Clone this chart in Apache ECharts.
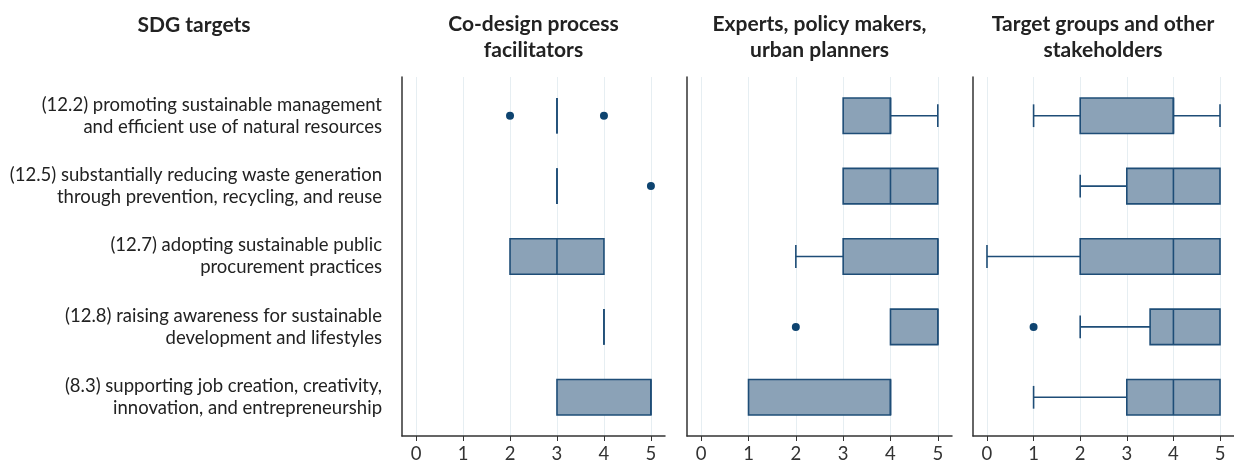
<!DOCTYPE html>
<html>
<head>
<meta charset="utf-8">
<script src="https://cdn.jsdelivr.net/npm/echarts@6/dist/echarts.min.js"></script>
<style>
  html, body { margin: 0; padding: 0; background: #fff; }
  #chart { width: 1234px; height: 464px; }
</style>
</head>
<body>
<div id="chart"></div>
<script>
// SDG targets (top to bottom)
var categories = [
    '(12.2) promoting sustainable management\nand efficient use of natural resources',
    '(12.5) substantially reducing waste generation\nthrough prevention, recycling, and reuse',
    '(12.7) adopting sustainable public\nprocurement practices',
    '(12.8) raising awareness for sustainable\ndevelopment and lifestyles',
    '(8.3) supporting job creation, creativity,\ninnovation, and entrepreneurship'
];
var panelTitles = [
    'Co-design process\nfacilitators',
    'Experts, policy makers,\nurban planners',
    'Target groups and other\nstakeholders'
];
var xTicks = [0, 1, 2, 3, 4, 5];

// [min, Q1, median, Q3, max] per category
var coDesignBoxes = [[3, 3, 3, 3, 3], [3, 3, 3, 3, 3], [2, 2, 3, 4, 4], [4, 4, 4, 4, 4], [3, 3, 5, 5, 5]];
var expertsBoxes = [[3, 3, 4, 4, 5], [3, 3, 4, 5, 5], [2, 3, 5, 5, 5], [4, 4, 5, 5, 5], [1, 1, 4, 4, 4]];
var targetBoxes = [[1, 2, 4, 4, 5], [2, 3, 4, 5, 5], [0, 2, 4, 5, 5], [2, 3.5, 4, 5, 5], [1, 3, 4, 5, 5]];

// outliers: [value, category index]
var coDesignOutliers = [[2, 0], [4, 0], [5, 1]];
var expertsOutliers = [[2, 3]];
var targetOutliers = [[1, 3]];

var chart = echarts.init(document.getElementById('chart'));

var font = 'Lato';
var boxFill = '#8ba2b7';
var boxLine = '#1e4d77';
var dotColor = '#0e4470';
var gridLeft = [402, 687, 973];
var gridRight = [569, 282, -3];

function boxRows(boxes) {
    return boxes.map(function (b, i) { return [i].concat(b); });
}

function renderBox(params, api) {
    var cat = api.value(0);
    var vMin = api.value(1), q1 = api.value(2), med = api.value(3), q3 = api.value(4), vMax = api.value(5);
    var band = api.size([0, 1])[1];
    var boxH = band * 0.505;
    var capH = boxH * 0.64;
    var pMin = api.coord([vMin, cat]);
    var pQ1 = api.coord([q1, cat]);
    var pMed = api.coord([med, cat]);
    var pQ3 = api.coord([q3, cat]);
    var pMax = api.coord([vMax, cat]);
    var y = pMed[1];
    var st = { stroke: boxLine, lineWidth: 1.6, fill: null };
    var children = [];
    if (vMin < q1) {
        children.push({ type: 'line', shape: { x1: pMin[0], y1: y, x2: pQ1[0], y2: y }, style: st });
        children.push({ type: 'line', shape: { x1: pMin[0], y1: y - capH / 2, x2: pMin[0], y2: y + capH / 2 }, style: st });
    }
    if (vMax > q3) {
        children.push({ type: 'line', shape: { x1: pQ3[0], y1: y, x2: pMax[0], y2: y }, style: st });
        children.push({ type: 'line', shape: { x1: pMax[0], y1: y - capH / 2, x2: pMax[0], y2: y + capH / 2 }, style: st });
    }
    children.push({
        type: 'rect',
        shape: { x: pQ1[0], y: y - boxH / 2, width: pQ3[0] - pQ1[0], height: boxH },
        style: { fill: boxFill, stroke: boxLine, lineWidth: 1.6 }
    });
    children.push({ type: 'line', shape: { x1: pMed[0], y1: y - boxH / 2, x2: pMed[0], y2: y + boxH / 2 }, style: st });
    return { type: 'group', children: children };
}

var grids = [], xAxes = [], yAxes = [], series = [], titles = [];
var allBoxes = [coDesignBoxes, expertsBoxes, targetBoxes];
var allOutliers = [coDesignOutliers, expertsOutliers, targetOutliers];

var titleStyle = { fontFamily: font, fontSize: 21, fontWeight: 'bold', color: '#222', lineHeight: 26 };

titles.push({
    text: 'SDG targets', left: 194, top: 12, textAlign: 'center', padding: 0,
    textStyle: titleStyle
});

for (var i = 0; i < 3; i++) {
    grids.push({ left: gridLeft[i], right: gridRight[i], top: 77, bottom: 27 });
    titles.push({
        text: panelTitles[i],
        left: gridLeft[i] + (1234 - gridRight[i] - gridLeft[i]) / 2 + (i === 2 ? -2 : 0),
        top: 11, textAlign: 'center', padding: 0,
        textStyle: titleStyle
    });
    xAxes.push({
        type: 'value', gridIndex: i, min: -0.3, max: 5.3,
        axisLine: { show: true, onZero: false, lineStyle: { color: '#333', width: 1.5 } },
        axisTick: { show: true, customValues: xTicks, length: 5, lineStyle: { color: '#333', width: 1 } },
        axisLabel: { customValues: xTicks, fontFamily: font, fontSize: 18.5, color: '#333', margin: 9 },
        splitLine: { show: true, lineStyle: { color: '#e6eef2', width: 1 } }
    });
    yAxes.push({
        type: 'value', gridIndex: i, inverse: true, min: -0.55, max: 4.55,
        axisLine: { show: true, onZero: false, lineStyle: { color: '#333', width: 1.5 } },
        axisTick: { show: false },
        splitLine: { show: false },
        axisLabel: {
            show: i === 0,
            customValues: [0, 1, 2, 3, 4],
            formatter: function (v) { return categories[v]; },
            fontFamily: font, fontSize: 18.5, color: '#222', lineHeight: 22,
            align: 'right', margin: 20
        }
    });
    series.push({
        type: 'custom', xAxisIndex: i, yAxisIndex: i,
        renderItem: renderBox,
        encode: { x: [1, 2, 3, 4, 5], y: 0 },
        data: boxRows(allBoxes[i]),
        silent: true
    });
    series.push({
        type: 'scatter', xAxisIndex: i, yAxisIndex: i,
        symbolSize: 8,
        itemStyle: { color: dotColor, opacity: 1 },
        data: allOutliers[i],
        silent: true
    });
}

var option = {
    animation: false,
    backgroundColor: '#fff',
    title: titles,
    grid: grids,
    xAxis: xAxes,
    yAxis: yAxes,
    series: series
};

option && chart.setOption(option);
</script>
</body>
</html>
